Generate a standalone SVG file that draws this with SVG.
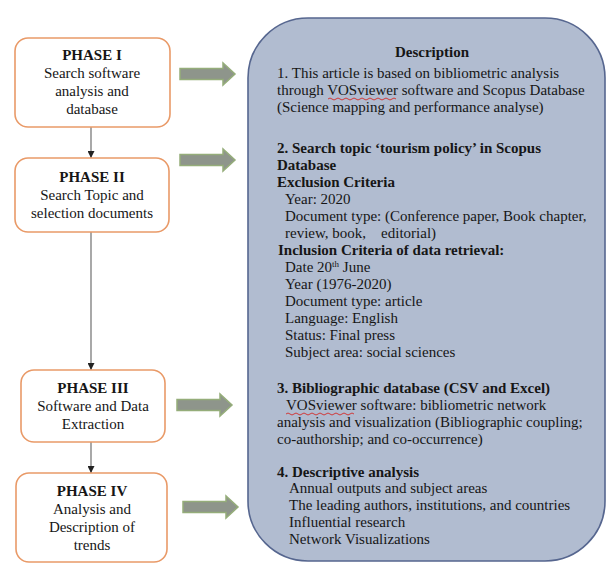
<svg xmlns="http://www.w3.org/2000/svg" width="609" height="566" viewBox="0 0 609 566">
<style>
text{font-family:"Liberation Serif","Times New Roman",serif;font-size:15px;fill:#161616}
.b{font-weight:bold}
.c{text-anchor:middle}
.pre{white-space:pre}
.phase{fill:#ffffff;stroke:#e99a68;stroke-width:1.6}
.desc{fill:#b1bcd0;stroke:#56668f;stroke-width:1.6}
.blk{fill:#8e958b;stroke:#95ad7a;stroke-width:1.5}
.con{stroke:#7a7a7a;stroke-width:1.3;fill:none}
.sq{stroke:#d03a3a;stroke-width:1;fill:none}
</style>
<defs>
<marker id="ah" viewBox="0 0 10 10" refX="10" refY="5" markerWidth="7" markerHeight="7" markerUnits="userSpaceOnUse" orient="auto">
<path d="M0,0 L10,5 L0,10 Z" fill="#222"/>
</marker>
<path id="blockArrow" d="M0,-5.5 H43 V-11 L55,0 L43,11 V5.5 H0 Z"/>
</defs>
<rect width="609" height="566" fill="#ffffff"/>

<g id="connectors">
<line class="con" x1="91" y1="127" x2="91" y2="158" marker-end="url(#ah)"/>
<line class="con" x1="91" y1="232" x2="91" y2="370" marker-end="url(#ah)"/>
<line class="con" x1="91" y1="442" x2="91" y2="473" marker-end="url(#ah)"/>
<use href="#blockArrow" class="blk" transform="translate(180,74)"/>
<use href="#blockArrow" class="blk" transform="translate(180,160)"/>
<use href="#blockArrow" class="blk" transform="translate(177,405)"/>
<use href="#blockArrow" class="blk" transform="translate(183,507)"/>
</g>

<g id="phase1">
<rect class="phase" x="15" y="38" width="155" height="89" rx="13"/>
<text class="c b" x="92" y="60">PHASE I</text>
<text class="c" x="92" y="78">Search software</text>
<text class="c" x="92" y="96">analysis and</text>
<text class="c" x="92" y="114">database</text>
</g>

<g id="phase2">
<rect class="phase" x="15" y="158" width="154" height="74" rx="13"/>
<text class="c b" x="92" y="182">PHASE II</text>
<text class="c" x="92" y="200">Search Topic and</text>
<text class="c" x="92" y="218">selection documents</text>
</g>

<g id="phase3">
<rect class="phase" x="21" y="370" width="144" height="72" rx="13"/>
<text class="c b" x="93" y="393">PHASE III</text>
<text class="c" x="93" y="411">Software and Data</text>
<text class="c" x="93" y="429">Extraction</text>
</g>

<g id="phase4">
<rect class="phase" x="16" y="473" width="151" height="89" rx="13"/>
<text class="c b" x="92" y="496">PHASE IV</text>
<text class="c" x="92" y="514">Analysis and</text>
<text class="c" x="92" y="532">Description of</text>
<text class="c" x="92" y="550">trends</text>
</g>

<g id="description">
<rect class="desc" x="248" y="18" width="357" height="543" rx="60" ry="60"/>
<text class="c b" x="432" y="57">Description</text>
<text x="277" y="78">1. This article is based on bibliometric analysis</text>
<text x="277" y="95">through VOSviewer software and Scopus Database</text>
<text x="277" y="112">(Science mapping and performance analyse)</text>
<text class="b" x="277" y="153">2. Search topic ‘tourism policy’ in Scopus</text>
<text class="b" x="277" y="170">Database</text>
<text class="b" x="277" y="187">Exclusion Criteria</text>
<text x="285" y="204">Year: 2020</text>
<text x="285" y="221">Document type: (Conference paper, Book chapter,</text>
<text class="pre" x="285" y="238">review, book,    editorial)</text>
<text class="b" x="278" y="255">Inclusion Criteria of data retrieval:</text>
<text x="285" y="272">Date 20<tspan dy="-5" font-size="9">th</tspan><tspan dy="5"> June</tspan></text>
<text x="285" y="289">Year (1976-2020)</text>
<text x="285" y="306">Document type: article</text>
<text x="285" y="323">Language: English</text>
<text x="285" y="340">Status: Final press</text>
<text x="285" y="357">Subject area: social sciences</text>
<text class="b" x="277" y="393">3. Bibliographic database (CSV and Excel)</text>
<text x="286" y="410">VOSviewer software: bibliometric network</text>
<text x="277" y="427">analysis and visualization (Bibliographic coupling;</text>
<text x="277" y="444">co-authorship; and co-occurrence)</text>
<text class="b" x="277" y="477">4. Descriptive analysis</text>
<text x="289" y="493">Annual outputs and subject areas</text>
<text x="289" y="510">The leading authors, institutions, and countries</text>
<text x="289" y="527">Influential research</text>
<text x="289" y="544">Network Visualizations</text>
<path class="sq" d="M328,99 q2,-2 4,0 t4,0 t4,0 t4,0 t4,0 t4,0 t4,0 t4,0 t4,0 t4,0 t4,0 t4,0 t4,0 t4,0 t4,0 t4,0 t4,0"/>
<path class="sq" d="M286,414 q2,-2 4,0 t4,0 t4,0 t4,0 t4,0 t4,0 t4,0 t4,0 t4,0 t4,0 t4,0 t4,0 t4,0 t4,0 t4,0 t4,0 t4,0"/>
</g>
</svg>
